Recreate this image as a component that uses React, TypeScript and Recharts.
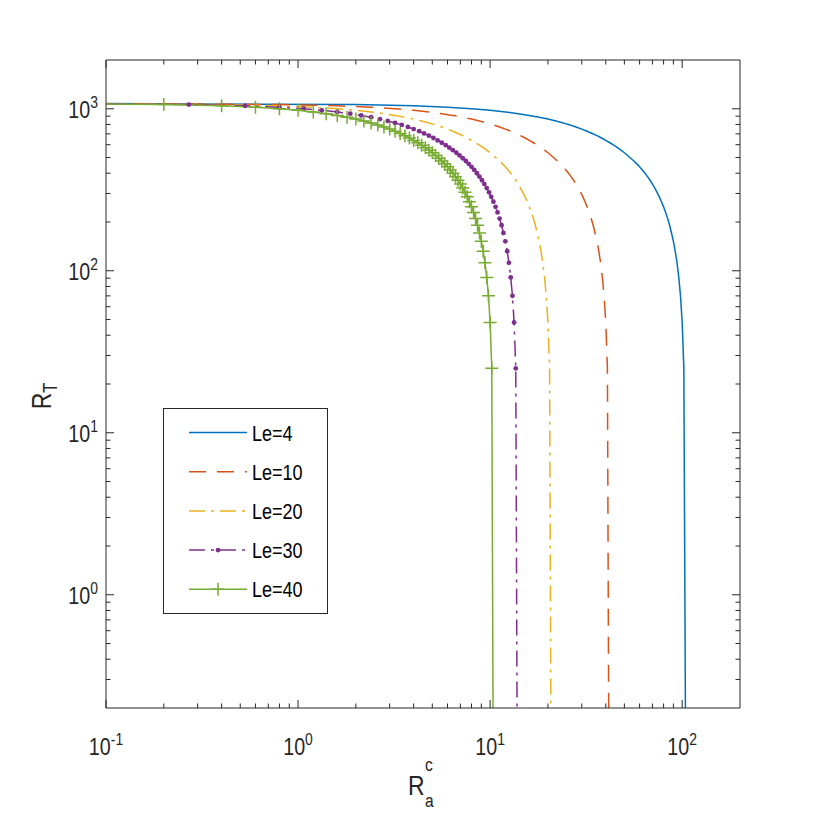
import React from "react";
import { LineChart, Line, XAxis, YAxis, ReferenceLine, Legend } from "recharts";

// R_T; every series shares the same values at its own abscissae
const rT = [
  1080, 1062, 1043, 1022, 1000, 978, 956, 933, 910, 887, 864, 841, 818, 795, 772, 749, 727, 704,
  682, 660, 638, 617, 596, 575, 555, 535, 515, 495, 476, 457, 438, 419, 400, 381, 362, 343, 324,
  305, 286, 267, 248, 229, 210, 191, 171, 152, 132, 112, 91, 70, 48, 25, 0.05,
];

// first abscissa sits left of the axis (curve starts at R_a^c -> 0)
const xLe4 = [
  0.05, 2, 4, 6, 8, 10, 12, 14, 16, 18, 20, 22, 24, 26, 28, 30, 32, 34, 36, 38, 40, 42, 44, 46, 48,
  50, 52, 54, 56, 58, 60, 62, 64, 66, 68, 70, 72, 74, 76, 78, 80, 82, 84, 86, 88, 90, 92, 94, 96,
  98, 100, 102, 104.5,
];
const xLe10 = [
  0.05, 0.8, 1.6, 2.4, 3.2, 4, 4.8, 5.6, 6.4, 7.2, 8, 8.8, 9.6, 10.4, 11.2, 12, 12.8, 13.6, 14.4,
  15.2, 16, 16.8, 17.6, 18.4, 19.2, 20, 20.8, 21.6, 22.4, 23.2, 24, 24.8, 25.6, 26.4, 27.2, 28,
  28.8, 29.6, 30.4, 31.2, 32, 32.8, 33.6, 34.4, 35.2, 36, 36.8, 37.6, 38.4, 39.2, 40, 40.8, 41.6,
];
const xLe20 = [
  0.05, 0.4, 0.8, 1.2, 1.6, 2, 2.4, 2.8, 3.2, 3.6, 4, 4.4, 4.8, 5.2, 5.6, 6, 6.4, 6.8, 7.2, 7.6, 8,
  8.4, 8.8, 9.2, 9.6, 10, 10.4, 10.8, 11.2, 11.6, 12, 12.4, 12.8, 13.2, 13.6, 14, 14.4, 14.8, 15.2,
  15.6, 16, 16.4, 16.8, 17.2, 17.6, 18, 18.4, 18.8, 19.2, 19.6, 20, 20.4, 20.8,
];
const xLe30 = [
  0.05, 0.27, 0.53, 0.8, 1.07, 1.33, 1.6, 1.87, 2.13, 2.4, 2.67, 2.93, 3.2, 3.47, 3.73, 4, 4.27,
  4.53, 4.8, 5.07, 5.33, 5.6, 5.87, 6.13, 6.4, 6.67, 6.93, 7.2, 7.47, 7.73, 8, 8.27, 8.53, 8.8,
  9.07, 9.33, 9.6, 9.87, 10.13, 10.4, 10.67, 10.93, 11.2, 11.47, 11.73, 12, 12.27, 12.53, 12.8,
  13.07, 13.33, 13.6, 13.87,
];
const xLe40 = [
  0.05, 0.2, 0.4, 0.6, 0.8, 1, 1.2, 1.4, 1.6, 1.8, 2, 2.2, 2.4, 2.6, 2.8, 3, 3.2, 3.4, 3.6, 3.8, 4,
  4.2, 4.4, 4.6, 4.8, 5, 5.2, 5.4, 5.6, 5.8, 6, 6.2, 6.4, 6.6, 6.8, 7, 7.2, 7.4, 7.6, 7.8, 8, 8.2,
  8.4, 8.6, 8.8, 9, 9.2, 9.4, 9.6, 9.8, 10, 10.2, 10.4,
];

const seriesNames = ["Le=4", "Le=10", "Le=20", "Le=30", "Le=40"];

const xMajor = [0.1, 1, 10, 100];
const xMajorLabels = ["-1", "0", "1", "2"];
const xMinor = [
  0.2, 0.3, 0.4, 0.5, 0.6, 0.7, 0.8, 0.9, 2, 3, 4, 5, 6, 7, 8, 9, 20, 30, 40, 50, 60, 70, 80, 90,
];
const yMajor = [1, 10, 100, 1000];
const yMajorLabels = ["0", "1", "2", "3"];
const yMinor = [
  0.3, 0.4, 0.5, 0.6, 0.7, 0.8, 0.9, 2, 3, 4, 5, 6, 7, 8, 9, 20, 30, 40, 50, 60, 70, 80, 90, 200,
  300, 400, 500, 600, 700, 800, 900,
];

const AXIS = "#262626";
const FONT = "'Liberation Sans', Arial, Helvetica, sans-serif";
const NARROW = 0.82; // matlab's helvetica renders condensed
const BLUE = "#0072BD";
const RED = "#D95319";
const YELLOW = "#EDB120";
const PURPLE = "#7E2F8E";
const GREEN = "#77AC30";
const DASH = "17 11";
const DASHDOT = "16 6 3 6";

const PLOT_TOP = 60;
const PLOT_RIGHT = 740;
const MAJOR_LEN = 8;
const MINOR_LEN = 4.5;

const toPoints = (xs: number[]) => xs.map((x, i) => ({ x, y: rT[i] }));

const series = [
  { name: seriesNames[0], data: toPoints(xLe4), color: BLUE, dash: undefined, marker: "none" },
  { name: seriesNames[1], data: toPoints(xLe10), color: RED, dash: DASH, marker: "none" },
  { name: seriesNames[2], data: toPoints(xLe20), color: YELLOW, dash: DASHDOT, marker: "none" },
  { name: seriesNames[3], data: toPoints(xLe30), color: PURPLE, dash: DASHDOT, marker: "dot" },
  { name: seriesNames[4], data: toPoints(xLe40), color: GREEN, dash: undefined, marker: "plus" },
];

function markerShape(kind: string, cx: number, cy: number, color: string, key?: any) {
  if (kind === "dot") return <circle key={key} cx={cx} cy={cy} r={2.4} fill={color} stroke="none" />;
  if (kind === "plus")
    return (
      <path
        key={key}
        d={`M${cx - 6.5},${cy}H${cx + 6.5}M${cx},${cy - 6.5}V${cy + 6.5}`}
        stroke={color}
        strokeWidth={1.5}
        fill="none"
      />
    );
  return <g key={key} />;
}

function PowerLabel({ x, y, exp, anchor }: { x: number; y: number; exp: string; anchor: string }) {
  return (
    <text
      transform={`translate(${x},${y}) scale(${NARROW},1)`}
      textAnchor={anchor as any}
      fontSize={24}
      fill={AXIS}
      fontFamily={FONT}
    >
      10
      <tspan dy={-10} fontSize={17}>
        {exp}
      </tspan>
    </text>
  );
}

function XTick(props: any) {
  const { x, y, payload } = props;
  const idx = xMajor.indexOf(payload.value);
  const len = idx >= 0 ? MAJOR_LEN : MINOR_LEN;
  return (
    <g>
      <line x1={x} x2={x} y1={y} y2={y - len} stroke={AXIS} />
      <line x1={x} x2={x} y1={PLOT_TOP} y2={PLOT_TOP + len} stroke={AXIS} />
      {idx >= 0 && <PowerLabel x={x} y={y + 47} exp={xMajorLabels[idx]} anchor="middle" />}
    </g>
  );
}

function YTick(props: any) {
  const { x, y, payload } = props;
  const idx = yMajor.indexOf(payload.value);
  const len = idx >= 0 ? MAJOR_LEN : MINOR_LEN;
  return (
    <g>
      <line x1={x} x2={x + len} y1={y} y2={y} stroke={AXIS} />
      <line x1={PLOT_RIGHT} x2={PLOT_RIGHT - len} y1={y} y2={y} stroke={AXIS} />
      {idx >= 0 && <PowerLabel x={x - 8} y={y + 9} exp={yMajorLabels[idx]} anchor="end" />}
    </g>
  );
}

function LegendBox() {
  return (
    <svg width={166} height={207} style={{ display: "block" }}>
      <rect x={0.5} y={0.5} width={164} height={205} fill="#fff" stroke={AXIS} />
      {series.map((s, i) => {
        const cy = 24.5 + i * 39.2;
        return (
          <g key={s.name}>
            <line
              x1={26}
              x2={84}
              y1={cy}
              y2={cy}
              stroke={s.color}
              strokeWidth={1.5}
              strokeDasharray={s.dash}
            />
            {markerShape(s.marker, 55, cy, s.color)}
            <text
              transform={`translate(89,${cy + 8}) scale(${NARROW},1)`}
              fontSize={22}
              fill="#000"
              fontFamily={FONT}
            >
              {s.name}
            </text>
          </g>
        );
      })}
    </svg>
  );
}

export default function App() {
  return (
    <div style={{ position: "absolute", left: 0, top: 0, background: "#fff" }}>
      <LineChart width={817} height={817} margin={{ top: 60, right: 77, bottom: 108, left: 105 }}>
        <XAxis
          dataKey="x"
          type="number"
          scale="log"
          domain={[0.1, 200]}
          allowDataOverflow
          ticks={[...xMajor, ...xMinor]}
          interval={0}
          height={1}
          tickSize={0}
          tickMargin={0}
          tickLine={false}
          axisLine={{ stroke: AXIS }}
          tick={<XTick />}
        />
        <YAxis
          dataKey="y"
          type="number"
          scale="log"
          domain={[0.2, 2000]}
          allowDataOverflow
          ticks={[...yMajor, ...yMinor]}
          interval={0}
          width={1}
          tickSize={0}
          tickMargin={0}
          tickLine={false}
          axisLine={{ stroke: AXIS }}
          tick={<YTick />}
        />
        <ReferenceLine y={2000} stroke={AXIS} />
        <ReferenceLine x={200} stroke={AXIS} />
        {series.map((s) => (
          <Line
            key={s.name}
            name={s.name}
            data={s.data}
            dataKey="y"
            type="linear"
            stroke={s.color}
            strokeWidth={1.5}
            strokeDasharray={s.dash}
            dot={(p: any) => markerShape(s.marker, p.cx, p.cy, s.color, p.index)}
            activeDot={false}
            isAnimationActive={false}
          />
        ))}
        <Legend
          layout="vertical"
          align="center"
          verticalAlign="middle"
          content={() => <LegendBox />}
          wrapperStyle={{ left: 163, top: 408, width: 166, height: 207 }}
        />
      </LineChart>
      <svg
        width={817}
        height={817}
        style={{ position: "absolute", left: 0, top: 0, pointerEvents: "none" }}
      >
        <text
          transform={`translate(51,396) rotate(-90) scale(${NARROW},1)`}
          textAnchor="middle"
          fontSize={28}
          fill={AXIS}
          fontFamily={FONT}
        >
          R
          <tspan dy={6} fontSize={20}>
            T
          </tspan>
        </text>
        <text
          transform={`translate(408,795) scale(${NARROW},1)`}
          fontSize={28}
          fill={AXIS}
          fontFamily={FONT}
        >
          R
        </text>
        <text
          transform={`translate(425,771) scale(${NARROW},1)`}
          fontSize={19}
          fill={AXIS}
          fontFamily={FONT}
        >
          c
        </text>
        <text
          transform={`translate(425,807) scale(${NARROW},1)`}
          fontSize={19}
          fill={AXIS}
          fontFamily={FONT}
        >
          a
        </text>
      </svg>
    </div>
  );
}
